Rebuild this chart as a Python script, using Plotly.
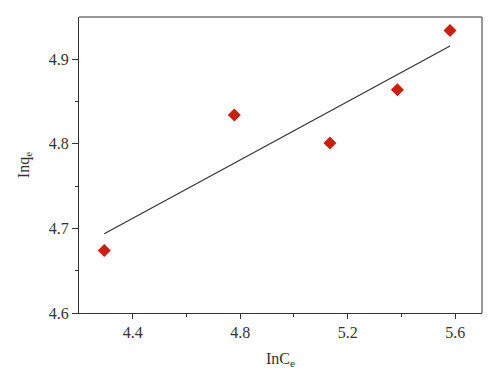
import numpy as np
import plotly.graph_objects as go

lnCe = [4.294, 4.778, 5.134, 5.385, 5.581]
lnqe = [4.674, 4.834, 4.801, 4.864, 4.934]

slope, intercept = np.polyfit(lnCe, lnqe, 1)
fit_x = [min(lnCe), max(lnCe)]
fit_y = [slope * v + intercept for v in fit_x]

font_family = "Liberation Serif"
tfont = dict(family=font_family, size=16, color="#333333")

fig = go.Figure()
fig.add_trace(go.Scatter(x=fit_x, y=fit_y, mode="lines",
                         line=dict(color="#333333", width=1.2), showlegend=False))
fig.add_trace(go.Scatter(x=lnCe, y=lnqe, mode="markers",
                         marker=dict(symbol="diamond", size=10, color="#c8200e",
                                     line=dict(width=0)), showlegend=False))

fig.update_layout(
    width=500, height=383,
    margin=dict(l=79, r=18, t=17, b=70),
    paper_bgcolor="white", plot_bgcolor="white",
    font=tfont,
)
fig.update_xaxes(
    range=[4.2, 5.7], tickvals=[4.4, 4.8, 5.2, 5.6], ticktext=["4.4", "4.8", "5.2", "5.6"],
    tickfont=tfont,
    showgrid=False, zeroline=False,
    showline=True, linecolor="#333333", linewidth=1.3, mirror=False,
    ticks="outside", ticklen=5, tickcolor="#333333", tickwidth=1,
    minor=dict(tickvals=[4.6, 5.0, 5.4], ticks="outside", ticklen=3, tickcolor="#333333"),
    title=dict(text="InC<sub>e</sub>", standoff=12, font=tfont),
)
fig.update_yaxes(
    range=[4.6, 4.95], tickvals=[4.6, 4.7, 4.8, 4.9], ticktext=["4.6", "4.7", "4.8", "4.9"],
    tickfont=tfont,
    showgrid=False, zeroline=False,
    showline=True, linecolor="#333333", linewidth=1.3, mirror=False,
    ticks="outside", ticklen=6, tickcolor="#333333", tickwidth=1,
    minor=dict(tickvals=[4.65, 4.75, 4.85], ticks="outside", ticklen=3, tickcolor="#333333"),
    title=dict(text="Inq<sub>e</sub>", standoff=15, font=tfont),
)
# top and right frame lines (gray)
fig.add_shape(type="line", xref="paper", yref="paper", x0=0, x1=1, y0=1, y1=1,
              line=dict(color="#777777", width=1.5))
fig.add_shape(type="line", xref="paper", yref="paper", x0=1, x1=1, y0=0, y1=1,
              line=dict(color="#777777", width=1.5))

fig.write_html("out.html", config={"displayModeBar": False},
               post_script="document.body.style.margin='0';")
